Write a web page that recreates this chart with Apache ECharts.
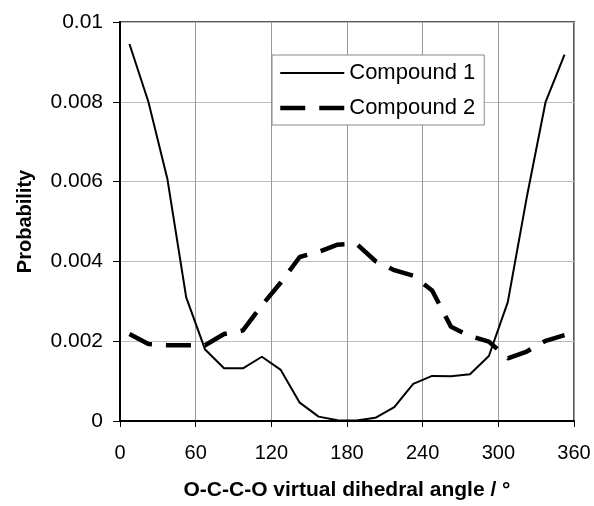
<!DOCTYPE html>
<html>
<head>
<meta charset="utf-8">
<script src="https://cdn.jsdelivr.net/npm/echarts@6/dist/echarts.min.js"></script>
<style>
    html, body { margin: 0; padding: 0; background: #fff; }
    #chart { width: 594px; height: 506px; }
</style>
</head>
<body>
<div id="chart"></div>
<script>
var angles = [7.5, 22.5, 37.5, 52.5, 67.5, 82.5, 97.5, 112.5, 127.5, 142.5, 157.5, 172.5,
    187.5, 202.5, 217.5, 232.5, 247.5, 262.5, 277.5, 292.5, 307.5, 322.5, 337.5, 352.5];
var compound1 = [0.00945, 0.0080, 0.00608, 0.0031, 0.00179, 0.00132, 0.00132, 0.00161, 0.00128, 0.00046, 0.00011, 0.00002,
    0.00001, 0.00008, 0.00035, 0.00093, 0.00113, 0.00112, 0.00117, 0.00163, 0.00298, 0.0056, 0.0080, 0.00918];
var compound2 = [0.00218, 0.00193, 0.0019, 0.0019, 0.0019, 0.00218, 0.00227, 0.0029, 0.00347, 0.00411, 0.00424, 0.00442,
    0.00444, 0.00401, 0.00378, 0.00364, 0.00327, 0.00236, 0.00213, 0.00199, 0.00157, 0.00174, 0.00201, 0.00215];
var seriesNames = ['Compound 1', 'Compound 2'];
var xName = 'O-C-C-O virtual dihedral angle / °';
var yName = 'Probability';

var fontFamily = "'Liberation Sans', Arial, Helvetica, sans-serif";
var solidLine = { color: '#000', width: 2, type: 'solid' };
var dashLine = { color: '#000', width: 4.5, type: [25, 14] };

function pairs(xs, ys) {
    var out = [];
    for (var i = 0; i < xs.length; i++) {
        out.push([xs[i], ys[i]]);
    }
    return out;
}

var myChart = echarts.init(document.getElementById('chart'));
var option = {
    animation: false,
    backgroundColor: '#fff',
    textStyle: {
        fontFamily: fontFamily,
        color: '#000'
    },
    grid: {
        left: 120,
        right: 20,
        top: 22,
        bottom: 81,
        show: true,
        borderColor: '#555',
        borderWidth: 2,
        backgroundColor: '#fff'
    },
    legend: {
        data: [
            { name: seriesNames[0], lineStyle: solidLine },
            { name: seriesNames[1], lineStyle: dashLine }
        ],
        orient: 'vertical',
        left: 272,
        top: 55,
        itemWidth: 64,
        itemHeight: 20,
        itemGap: 13,
        padding: [7, 9, 6, 6],
        borderColor: '#888',
        borderWidth: 1,
        backgroundColor: '#fff',
        itemStyle: {
            color: 'rgba(0,0,0,0)',
            borderWidth: 0,
            opacity: 0
        },
        textStyle: {
            fontSize: 22,
            color: '#000',
            fontFamily: fontFamily
        }
    },
    xAxis: {
        type: 'value',
        min: 0,
        max: 360,
        interval: 60,
        name: xName,
        nameLocation: 'middle',
        nameGap: 59,
        nameTextStyle: {
            fontSize: 21,
            fontWeight: 'bold',
            color: '#000'
        },
        axisLine: {
            lineStyle: { color: '#000', width: 2 }
        },
        axisTick: {
            show: true,
            length: 6,
            lineStyle: { color: '#000', width: 1 }
        },
        axisLabel: {
            fontSize: 20,
            margin: 22,
            color: '#000'
        },
        splitLine: {
            show: true,
            lineStyle: { color: '#9a9a9a', width: 1 }
        }
    },
    yAxis: {
        type: 'value',
        min: 0,
        max: 0.01,
        interval: 0.002,
        name: yName,
        nameLocation: 'middle',
        nameGap: 85,
        nameTextStyle: {
            fontSize: 20,
            fontWeight: 'bold',
            color: '#000'
        },
        axisLine: {
            show: true,
            lineStyle: { color: '#000', width: 2 }
        },
        axisTick: {
            show: true,
            length: 7,
            lineStyle: { color: '#000', width: 1 }
        },
        axisLabel: {
            fontSize: 21,
            margin: 17,
            color: '#000'
        },
        splitLine: {
            show: true,
            lineStyle: { color: '#bdbdbd', width: 1 }
        }
    },
    series: [
        {
            name: seriesNames[0],
            type: 'line',
            symbol: 'none',
            data: pairs(angles, compound1),
            lineStyle: solidLine,
            itemStyle: { color: '#000' }
        },
        {
            name: seriesNames[1],
            type: 'line',
            symbol: 'none',
            data: pairs(angles, compound2),
            lineStyle: dashLine,
            itemStyle: { color: '#000' }
        }
    ]
};

myChart.setOption(option);
</script>
</body>
</html>
